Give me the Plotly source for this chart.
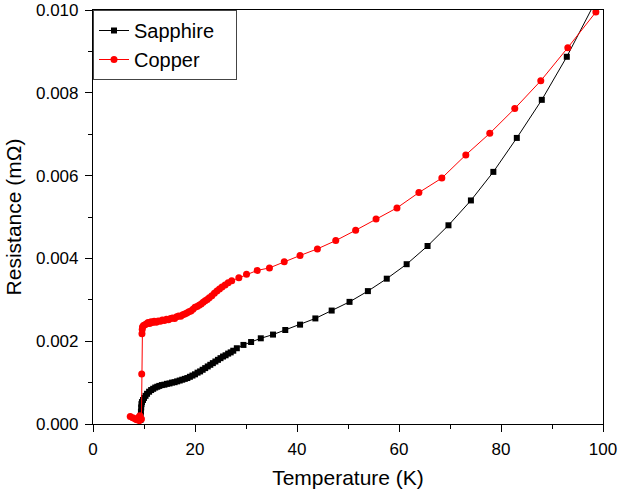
import plotly.graph_objects as go

# Sapphire (black squares)
sapphire_T = [9.30, 9.35, 9.40, 9.45, 9.50, 9.60, 9.80, 10.0, 10.3, 10.6, 11.0, 11.4, 11.8,
              12.2, 12.6, 13.0, 13.5, 14.0, 14.5, 15.0, 15.5, 16.0, 16.5, 17.0, 17.5, 18.0,
              18.5, 19.0, 19.5, 20.0, 20.5, 21.0, 21.5, 22.0, 22.5, 23.0, 23.5, 24.0, 24.5,
              25.0, 25.5, 26.0, 26.5, 27.0, 27.5, 28.2, 29.5, 31.0, 32.9, 35.3, 37.7, 40.6,
              43.6, 46.8, 50.3, 53.9, 57.6, 61.5, 65.6, 69.7, 74.1, 78.5, 83.1, 88.0, 92.9, 98.5]
sapphire_R = [0.00010, 0.00020, 0.00030, 0.00040, 0.00048, 0.00053, 0.00058, 0.00063, 0.00068,
              0.00073, 0.00078, 0.00082, 0.00085, 0.00088, 0.00090, 0.00092, 0.00094, 0.00095,
              0.00097, 0.00098, 0.00100, 0.00101, 0.00103, 0.00105, 0.00107, 0.00109, 0.00111,
              0.00114, 0.00117, 0.00120, 0.00124, 0.00127, 0.00131, 0.00135, 0.00139, 0.00143,
              0.00147, 0.00151, 0.00155, 0.00159, 0.00163, 0.00166, 0.00170, 0.00173, 0.00177,
              0.00183, 0.00191, 0.00198, 0.00207, 0.00216, 0.00227, 0.00240, 0.00255, 0.00274,
              0.00295, 0.00321, 0.00351, 0.00386, 0.00430, 0.00480, 0.00540, 0.00609, 0.00691,
              0.00783, 0.00887, 0.01020]

# Copper (red circles)
copper_T = [7.3, 7.8, 8.3, 8.6, 8.9, 9.1, 9.2, 9.3, 9.5, 9.55, 9.6, 9.65, 9.7, 9.9, 10.2,
            10.5, 10.8, 11.1, 11.4, 11.7, 12.0, 12.4, 12.8, 13.2, 13.6, 14.0, 14.4, 14.8,
            15.2, 15.6, 16.0, 16.4, 16.8, 17.2, 17.6, 18.0, 18.4, 18.8, 19.2, 19.6, 20.0,
            20.4, 20.8, 21.2, 21.6, 22.0, 22.4, 22.8, 23.3, 23.8, 24.3, 24.8, 25.3, 25.9,
            26.5, 27.2, 28.6, 30.1, 32.2, 34.6, 37.5, 40.6, 44.0, 47.6, 51.5, 55.5, 59.6,
            63.9, 68.4, 73.1, 77.8, 82.7, 87.8, 93.1, 98.6]
copper_R = [0.00018, 0.00015, 0.00012, 0.00010, 0.00016, 0.00008, 0.00020, 0.00012, 0.00012,
            0.00121, 0.00218, 0.00228, 0.00234, 0.00238, 0.00240, 0.00242, 0.00245, 0.00243,
            0.00247, 0.00245, 0.00248, 0.00246, 0.00249, 0.00248, 0.00251, 0.00250, 0.00253,
            0.00252, 0.00255, 0.00256, 0.00255, 0.00259, 0.00261, 0.00260, 0.00264, 0.00266,
            0.00268, 0.00271, 0.00273, 0.00277, 0.00282, 0.00284, 0.00287, 0.00290, 0.00294,
            0.00298, 0.00301, 0.00305, 0.00310, 0.00316, 0.00321, 0.00326, 0.00331, 0.00336,
            0.00341, 0.00346, 0.00353, 0.00362, 0.00371, 0.00377, 0.00392, 0.00407, 0.00423,
            0.00443, 0.00468, 0.00495, 0.00522, 0.00559, 0.00594, 0.00650, 0.00702, 0.00762,
            0.00829, 0.00909, 0.00995]

series_names = ["Sapphire", "Copper"]
x_ticks = [0, 20, 40, 60, 80, 100]
y_ticks = [0.000, 0.002, 0.004, 0.006, 0.008, 0.010]

FONT = "Arial, Liberation Sans, sans-serif"
PAD = "\u00a0\u00a0\u00a0"  # invisible padding to widen the legend box

fig = go.Figure()
fig.add_trace(go.Scatter(
    x=sapphire_T, y=sapphire_R, mode="lines+markers", name=series_names[0] + PAD,
    line=dict(color="black", width=1),
    marker=dict(symbol="square", size=6, color="black"),
))
fig.add_trace(go.Scatter(
    x=copper_T, y=copper_R, mode="lines+markers", name=series_names[1] + PAD,
    line=dict(color="red", width=1),
    marker=dict(symbol="circle", size=7, color="red"),
))

axis_common = dict(
    showline=True, linecolor="black", linewidth=1.2, mirror=True,
    ticks="outside", ticklen=7, tickwidth=1.2, tickcolor="black",
    showgrid=False, zeroline=False, automargin=False,
    tickfont=dict(family=FONT, size=17, color="black"),
)

fig.update_xaxes(
    range=[0, 100], tickvals=x_ticks, ticklabelstandoff=2,
    title=dict(text="Temperature (K)", font=dict(family=FONT, size=21, color="black"), standoff=12),
    minor=dict(ticks="outside", ticklen=4, tickwidth=1.2, tickcolor="black", dtick=10, tick0=0),
    **axis_common,
)
fig.update_yaxes(
    range=[0, 0.010], tickvals=y_ticks, tickformat=".3f", ticklabelstandoff=3,
    title=dict(text="Resistance (mΩ)", font=dict(family=FONT, size=21, color="black"), standoff=8),
    minor=dict(ticks="outside", ticklen=4, tickwidth=1.2, tickcolor="black", dtick=0.001, tick0=0),
    **axis_common,
)

fig.update_layout(
    width=619, height=492,
    margin=dict(l=93, r=16, t=10, b=68),
    paper_bgcolor="white", plot_bgcolor="white",
    font=dict(family=FONT, color="black"),
    showlegend=True,
    legend=dict(
        x=0, y=1, xanchor="left", yanchor="top",
        bordercolor="#444", borderwidth=1, bgcolor="white",
        font=dict(family=FONT, size=20, color="black"),
        tracegroupgap=0, itemwidth=30,
    ),
)

fig.write_html(
    "out.html",
    config={"displayModeBar": False},
    post_script="document.body.style.margin='0';document.body.style.overflow='hidden';",
)
